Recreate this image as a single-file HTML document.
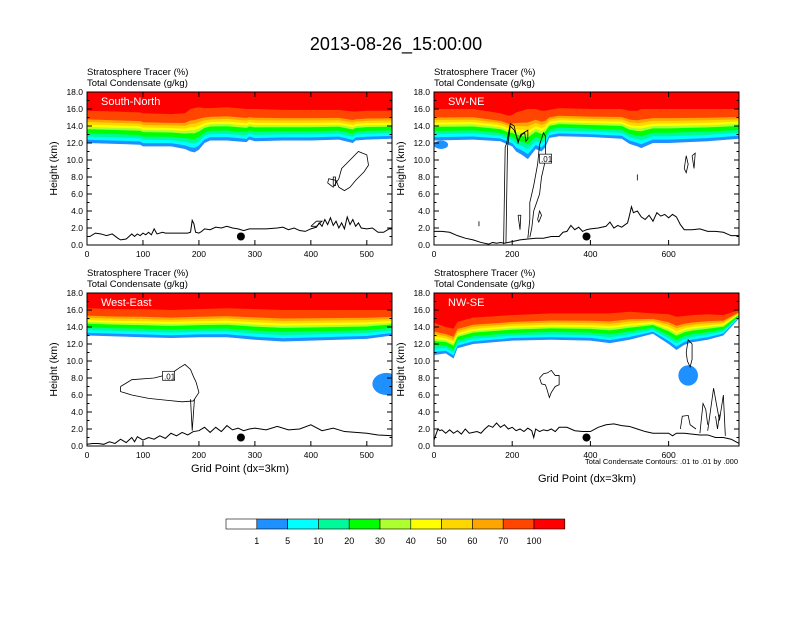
<!DOCTYPE html>
<html><head><meta charset="utf-8"><style>
body{margin:0;background:#fff;}
svg text{font-family:"Liberation Sans",sans-serif;}
</style></head><body>
<svg id="c" width="792" height="612" viewBox="0 0 792 612" xmlns="http://www.w3.org/2000/svg">
<text x="396" y="50" font-size="18" text-anchor="middle">2013-08-26_15:00:00</text>
</svg>
<script>
const colors=["#ffffff","#1e90ff","#00ffff","#00fa9a","#00ff00","#adff2f","#ffff00","#ffd700","#ffa500","#ff4500","#ff0000"];
const cbLabels=["1","5","10","20","30","40","50","60","70","100"];
const fracs=[0,0.1,0.2,0.3,0.43,0.5,0.57,0.65,0.73,1];
const yTicks=[0,2,4,6,8,10,12,14,16,18];
// panel 1 South-North
const p1Xs=[0,50,95,100,150,175,185,192,200,210,220,250,285,290,300,350,400,450,475,480,500,545];
const p1Blue=[12.0,11.9,11.8,11.6,11.6,11.3,11.0,10.9,11.2,12.0,12.3,12.3,12.1,12.4,12.2,12.3,12.3,12.4,12.0,12.3,12.4,12.5];
const p1Red=[15.8,15.7,15.6,15.5,15.4,15.5,16.0,16.1,16.2,16.1,16.1,16.2,16.0,16.0,16.0,15.9,15.9,15.9,15.7,15.7,15.8,15.8];
const p1TerrX=[0,5,15,25,35,45,55,60,70,80,85,90,95,100,105,110,115,120,125,135,140,150,160,170,180,185,188,191,194,200,205,210,220,230,240,250,260,270,280,290,300,320,340,350,360,370,380,390,400,410,415,420,425,430,435,440,445,450,455,460,465,470,475,480,485,490,500,510,520,530,540,545];
const p1TerrH=[1.0,1.0,1.4,1.3,1.1,1.3,0.8,0.6,0.7,1.3,1.0,1.3,1.1,1.4,1.2,1.5,1.2,1.9,1.3,1.5,1.4,1.4,1.4,1.4,1.4,1.5,2.9,2.5,1.5,1.4,1.6,1.9,1.8,2.1,2.0,2.2,2.0,1.9,1.7,1.9,1.9,1.9,2.0,2.1,1.8,2.0,1.7,1.6,1.9,2.1,2.6,2.2,3.0,2.4,3.2,2.3,2.8,2.0,2.6,1.9,3.3,2.4,3.0,2.2,2.6,2.0,1.9,2.0,1.5,1.5,1.9,1.9];
// panel 2 SW-NE
const p2Xs=[0,100,170,190,200,210,225,240,260,275,285,295,320,400,480,500,520,530,560,600,700,780];
const p2Blue=[12.3,12.4,12.2,11.8,11.6,11.0,10.6,10.1,11.3,11.0,11.5,12.6,12.8,12.7,12.5,11.9,11.6,11.4,12.0,12.0,12.2,12.5];
const p2Red=[16.0,16.0,15.5,15.2,15.3,15.6,15.8,16.0,16.0,15.8,15.8,15.9,16.1,16.0,16.0,15.8,15.8,16.0,16.0,16.0,16.0,16.0];
const p2TerrX=[0,20,40,60,80,100,120,140,150,160,170,180,200,220,240,260,280,300,320,330,340,350,360,370,380,390,400,420,440,450,460,470,480,495,500,505,510,520,530,540,550,560,570,580,590,600,610,620,630,640,660,680,700,720,740,760,780];
const p2TerrH=[1.6,1.6,1.5,1.1,0.8,0.6,0.3,0.1,0.3,0.2,0.3,0.2,0.4,0.6,0.7,0.8,0.8,1.0,1.0,1.5,1.6,2.3,1.8,2.1,1.6,1.8,1.9,2.0,2.2,2.7,2.0,2.3,2.1,2.6,3.5,4.5,3.8,4.0,3.3,3.0,3.5,2.8,3.8,3.4,3.6,3.2,3.6,3.3,2.4,1.8,1.8,1.9,1.6,1.6,1.5,1.1,1.1];
// panel 3 West-East
const p3Xs=[0,50,100,150,200,250,300,350,400,450,500,545];
const p3Blue=[13.0,12.9,12.8,12.7,12.8,12.8,12.5,12.3,12.4,12.5,12.6,13.0];
const p3Red=[16.2,16.1,16.1,16.0,16.1,16.2,16.1,16.0,16.0,16.0,16.0,16.0];
const p3TerrX=[0,10,20,30,40,50,60,70,80,85,90,100,110,120,130,140,150,160,170,180,190,200,210,220,230,240,250,260,270,280,290,300,320,340,360,380,400,420,440,460,480,500,520,545];
const p3TerrH=[0.2,0.3,0.3,0.2,0.5,0.3,0.8,0.4,1.0,0.5,1.1,0.7,1.0,0.8,1.2,0.9,1.5,1.2,1.6,1.3,1.7,1.8,2.2,1.6,2.2,1.7,2.4,1.9,2.1,1.8,2.0,2.1,1.9,2.3,1.9,2.0,2.5,1.8,2.1,1.7,1.6,1.5,1.3,1.2];
// panel 4 NW-SE
const p4Xs=[0,30,50,60,100,200,300,400,450,500,560,600,620,640,660,700,740,780];
const p4Blue=[10.7,10.9,10.3,11.5,12.0,12.4,12.5,12.4,12.1,12.5,13.2,12.0,11.3,11.9,12.2,12.5,13.0,15.0];
const p4Red=[14.5,14.0,13.8,14.6,15.1,15.4,15.6,15.6,15.6,15.8,15.6,15.5,15.2,15.3,15.4,15.5,15.4,16.0];
const p4TerrX=[0,10,15,20,30,40,50,60,70,80,90,100,110,120,130,140,150,160,170,180,190,200,210,220,230,240,250,255,260,270,280,290,300,310,320,340,360,380,400,420,440,460,480,500,520,540,560,580,600,610,620,640,660,680,700,720,740,760,780];
const p4TerrH=[0.7,2.0,1.8,1.9,1.5,1.9,1.5,1.8,1.4,2.0,1.5,1.6,1.7,1.5,2.0,2.4,2.2,2.7,2.2,2.5,2.0,2.2,1.8,2.0,1.7,2.1,1.8,1.0,2.0,1.7,1.9,1.8,2.0,1.7,2.2,2.2,1.8,1.7,1.7,2.2,2.5,2.6,2.4,2.3,2.0,1.7,1.5,1.5,1.5,1.2,1.5,1.5,1.4,1.3,1.3,1.0,1.0,0.8,0.3];

const NS="http://www.w3.org/2000/svg";
const svg=document.getElementById('c');
function mk(t,a,p){const e=document.createElementNS(NS,t);for(const k in a)e.setAttribute(k,a[k]);(p||svg).appendChild(e);return e;}
const panels=[
 {x0:87,y0:92,xmax:545,xt:[0,100,200,300,400,500],name:"South-North",xs:p1Xs,b:p1Blue,r:p1Red,tx:p1TerrX,th:p1TerrH,dot:275,key:"south-north",
  cont:[[[430,7.3],[440,6.8],[450,7.8],[455,9],[470,10],[485,11],[500,10.6],[503,9.4],[495,8.6],[480,7.6],[470,6.8],[460,6.4],[450,6.8],[445,7.6],[432,7.8],[430,7.3]],[[440,7],[440,8],[444,8],[444,7],[440,7]],[[400,2.2],[410,2.8],[420,2.8],[410,2.2],[400,2.2]]],blobs:[]},
 {x0:434,y0:92,xmax:780,xt:[0,200,400,600],name:"SW-NE",xs:p2Xs,b:p2Blue,r:p2Red,tx:p2TerrX,th:p2TerrH,dot:390,key:"sw-ne",
  cont:[[[178,0.1],[182,11.5],[186,12],[190,13],[195,14.3],[205,14],[210,13],[215,12],[222,13],[240,13.5],[240,12.5],[235,12.2],[232,13.2],[225,13],[215,12.3],[205,13.5],[195,14],[188,11.5],[184,0.2]],[[240,0.8],[245,3],[245,5],[255,7],[265,9.5],[270,11.8],[280,13.2],[285,12.8],[285,10],[275,8],[270,6],[255,4],[250,2],[245,0.9]],[[215,3.5],[220,1.8],[222,3.5],[215,3.5]],[[265,3],[270,4],[275,3.5],[268,2.7],[265,3]],[[640,9],[645,10.5],[650,9.5],[645,8.5],[640,9]],[[660,10.5],[665,9],[668,10.8],[660,10.5]],[[520,8.3],[520,7.6]],[[115,2.8],[115,2.2]]],blobs:[[18,11.8,18,0.5]],lbl:[270,10.1]},
 {x0:87,y0:293,xmax:545,xt:[0,100,200,300,400,500],name:"West-East",xs:p3Xs,b:p3Blue,r:p3Red,tx:p3TerrX,th:p3TerrH,dot:275,key:"west-east",
  cont:[[[60,7],[80,7.8],[120,8],[150,8.5],[165,9.2],[175,9.6],[185,9.0],[190,8.2],[195,7.5],[200,6.3],[195,5.8],[190,5.3],[170,5.2],[140,5.4],[110,5.6],[80,6],[60,6.4],[60,7]],[[185,5.5],[188,1.8],[192,5.5]]],blobs:[[535,7.3,25,1.3]],lbl:[135,8.2]},
 {x0:434,y0:293,xmax:780,xt:[0,200,400,600],name:"NW-SE",xs:p4Xs,b:p4Blue,r:p4Red,tx:p4TerrX,th:p4TerrH,dot:390,key:"nw-se",
  cont:[[[270,8],[280,8.5],[290,8.6],[300,8.9],[310,8.3],[320,8.3],[320,7.2],[310,7],[300,6.3],[295,5.7],[290,6.5],[285,7.2],[275,7.3],[270,8]],[[630,2],[635,3.5],[650,3.6],[655,2.5],[670,2]],[[700,1.8],[715,6.8],[722,5],[730,3],[740,6],[745,1.2]],[[680,1.5],[688,5],[695,4.3],[700,2.5]],[[645,11],[650,12.5],[660,12],[660,10.2],[655,9.3],[648,10],[645,11]],[[720,3.5],[725,2],[730,3.7]]],blobs:[[650,8.3,25,1.2]]}
];
panels.forEach((P,pi)=>{
 const W=305,H=153;
 const g=mk('g',{});
 
 
 const X=v=>P.x0+v/P.xmax*W, Y=h=>P.y0+H-h/18*H;
 const cp=mk('clipPath',{id:'cp'+pi},g); mk('rect',{x:P.x0,y:P.y0,width:W,height:H},cp);
 const fg=mk('g',{'clip-path':'url(#cp'+pi+')'},g);
 for(let l=0;l<fracs.length;l++){
  let d='M'+X(0)+','+Y(18);
  P.xs.forEach((x,i)=>{const h=P.b[i]+fracs[l]*(P.r[i]-P.b[i]);d+=' L'+X(x)+','+Y(h);});
  d+=' L'+X(P.xmax)+','+Y(18)+' Z';
  const band=mk('path',{d:d,fill:colors[l+1]},fg);
  
  
 }
 P.blobs.forEach(bb=>{mk('ellipse',{cx:X(bb[0]),cy:Y(bb[1]),rx:bb[2]*W/P.xmax,ry:bb[3]/18*H,fill:colors[1]},fg);});
 P.cont.forEach(c=>{
  const pl=mk('polyline',{points:c.map(p=>X(p[0])+','+Y(p[1])).join(' '),fill:'none',stroke:'#000','stroke-width':0.8},fg);
  
  
 });
 if(P.lbl){mk('rect',{x:X(P.lbl[0]),y:Y(P.lbl[1])-5,width:12,height:9,fill:'#fff',stroke:'#000','stroke-width':0.7},g);mk('text',{x:X(P.lbl[0])+1.5,y:Y(P.lbl[1])+3,'font-size':8},g).textContent='.01';}
 const tl=mk('polyline',{points:P.tx.map((x,i)=>X(x)+','+Y(P.th[i])).join(' '),fill:'none',stroke:'#000','stroke-width':1},g);
 
 
 const dt=mk('circle',{cx:X(P.dot),cy:Y(1.0),r:4,fill:'#000'},g);
 
 
 mk('rect',{x:P.x0,y:P.y0,width:W,height:H,fill:'none',stroke:'#000','stroke-width':1},g);
 const pn=mk('text',{x:P.x0+14,y:P.y0+13,fill:'#fff','font-size':11},g); pn.textContent=P.name;
 
 
 yTicks.forEach(t=>{const y=Y(t);
  mk('line',{x1:P.x0,x2:P.x0+5,y1:y,y2:y,stroke:'#000'},g);mk('line',{x1:P.x0+W,x2:P.x0+W-5,y1:y,y2:y,stroke:'#000'},g);
  if(t<18){mk('line',{x1:P.x0,x2:P.x0+2.5,y1:Y(t+1),y2:Y(t+1),stroke:'#000'},g);mk('line',{x1:P.x0+W,x2:P.x0+W-2.5,y1:Y(t+1),y2:Y(t+1),stroke:'#000'},g);}
  const tt=mk('text',{x:P.x0-4,y:y+3,'font-size':8.5,'text-anchor':'end'},g);tt.textContent=t.toFixed(1);
  
  
 });
 P.xt.forEach(t=>{const x=X(t);
  mk('line',{x1:x,x2:x,y1:P.y0+H,y2:P.y0+H-5,stroke:'#000'},g);mk('line',{x1:x,x2:x,y1:P.y0,y2:P.y0+5,stroke:'#000'},g);
  const tt=mk('text',{x:x,y:P.y0+H+12,'font-size':8.5,'text-anchor':'middle'},g);tt.textContent=t;
  
  
 });
 const yt=mk('text',{x:0,y:0,'font-size':10.5,'text-anchor':'middle',transform:'translate('+(P.x0-30)+','+(P.y0+H/2)+') rotate(-90)'},g);yt.textContent='Height (km)';
 
 
 mk('text',{x:P.x0,y:P.y0-17,'font-size':9.5},g).textContent='Stratosphere Tracer   (%)';
 mk('text',{x:P.x0,y:P.y0-6,'font-size':9.5},g).textContent='Total Condensate   (g/kg)';
});
mk('text',{x:738,y:464,'font-size':7.5,'text-anchor':'end'}).textContent='Total Condensate Contours: .01 to .01 by .000';
const xa1=mk('text',{x:240,y:472,'font-size':11,'text-anchor':'middle'});xa1.textContent='Grid Point (dx=3km)';


const xa2=mk('text',{x:587,y:482,'font-size':11,'text-anchor':'middle'});xa2.textContent='Grid Point (dx=3km)';


const cbw=30.8;
colors.forEach((c,i)=>{const r=mk('rect',{x:226+i*cbw,y:519,width:cbw,height:10,fill:c,stroke:'#000','stroke-width':0.6});
 
 });
cbLabels.forEach((l,i)=>{const t=mk('text',{x:226+(i+1)*cbw,y:544,'font-size':9,'text-anchor':'middle'});t.textContent=l;
 
 });
</script>
</body></html>
